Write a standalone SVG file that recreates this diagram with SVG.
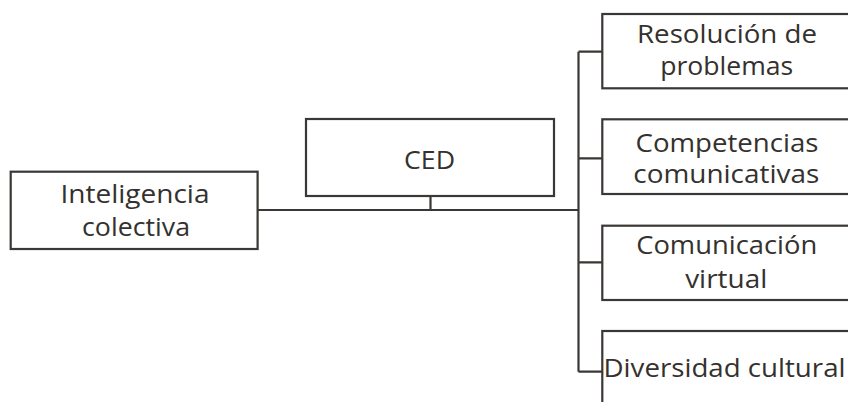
<svg xmlns="http://www.w3.org/2000/svg" width="848" height="402" viewBox="0 0 848 402">
<style>
.box{fill:#ffffff;stroke:#3b3734;stroke-width:2.2}
.ln{fill:none;stroke:#3b3734;stroke-width:2.2}
text{font-family:"Open Sans",Lato,"Liberation Sans",sans-serif;font-size:25.5px;font-weight:500;fill:#34312e;text-anchor:middle}
</style>
<rect width="848" height="402" fill="#ffffff"/>
<g id="connectors">
<path class="ln" d="M257.6,210 H578.5 M430.5,196 V210 M578.5,51.7 V371.7 M578.5,51.7 H602.3 M578.5,158.3 H602.3 M578.5,262.3 H602.3 M578.5,371.7 H602.3"/>
</g>
<g id="inteligencia">
<rect class="box" x="10.7" y="171.7" width="246.9" height="77.3"/>
<text x="135" y="203.3" textLength="149" lengthAdjust="spacingAndGlyphs">Inteligencia</text>
<text x="136" y="236" textLength="108" lengthAdjust="spacingAndGlyphs">colectiva</text>
</g>
<g id="ced">
<rect class="box" x="306" y="119" width="248" height="77"/>
<text x="429.5" y="169.3" textLength="51" lengthAdjust="spacingAndGlyphs">CED</text>
</g>
<g id="resolucion">
<rect class="box" x="602.3" y="14" width="260" height="74.3"/>
<text x="727" y="43.3" textLength="180" lengthAdjust="spacingAndGlyphs">Resolución de</text>
<text x="726.7" y="75" textLength="133" lengthAdjust="spacingAndGlyphs">problemas</text>
</g>
<g id="competencias">
<rect class="box" x="602.3" y="119.3" width="260" height="74.7"/>
<text x="727" y="151.7" textLength="183" lengthAdjust="spacingAndGlyphs">Competencias</text>
<text x="726.3" y="182.7" textLength="186" lengthAdjust="spacingAndGlyphs">comunicativas</text>
</g>
<g id="comunicacion">
<rect class="box" x="602.3" y="225.7" width="260" height="74.3"/>
<text x="726.7" y="254.3" textLength="181" lengthAdjust="spacingAndGlyphs">Comunicación</text>
<text x="726.2" y="288.3" textLength="82" lengthAdjust="spacingAndGlyphs">virtual</text>
</g>
<g id="diversidad">
<rect class="box" x="602.3" y="331" width="260" height="90"/>
<text x="724.5" y="376.7" textLength="242" lengthAdjust="spacingAndGlyphs">Diversidad cultural</text>
</g>
</svg>
